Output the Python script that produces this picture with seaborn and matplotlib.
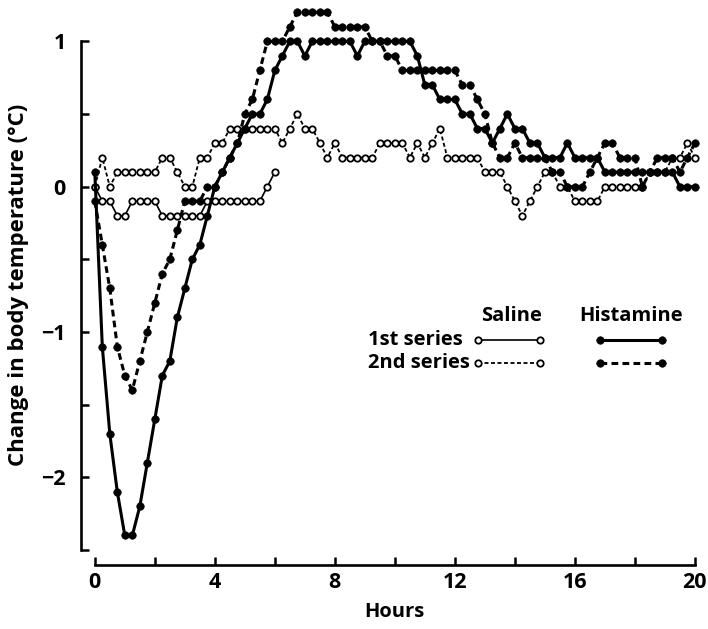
import numpy as np
import pandas as pd
import matplotlib
matplotlib.use("Agg")
import matplotlib.pyplot as plt
from matplotlib.lines import Line2D
import seaborn as sns

# ---- data (readings every 15 min) ----
HOURS = np.arange(0, 20.001, 0.25)
HOURS_SALINE1 = np.arange(0, 6.001, 0.25)

saline_1st = [0.0, -0.1, -0.1, -0.2, -0.2, -0.1, -0.1, -0.1, -0.1, -0.2,
              -0.2, -0.2, -0.2, -0.2, -0.2, -0.1, -0.1, -0.1, -0.1, -0.1,
              -0.1, -0.1, -0.1, 0.0, 0.1]

saline_2nd = [0.0, 0.2, 0.0, 0.1, 0.1, 0.1, 0.1, 0.1, 0.1, 0.2,
              0.2, 0.1, 0.0, 0.0, 0.2, 0.2, 0.3, 0.3, 0.4, 0.4,
              0.4, 0.4, 0.4, 0.4, 0.4, 0.3, 0.4, 0.5, 0.4, 0.4,
              0.3, 0.2, 0.3, 0.2, 0.2, 0.2, 0.2, 0.2, 0.3, 0.3,
              0.3, 0.3, 0.2, 0.3, 0.2, 0.3, 0.4, 0.2, 0.2, 0.2,
              0.2, 0.2, 0.1, 0.1, 0.1, 0.0, -0.1, -0.2, -0.1, 0.0,
              0.1, 0.1, 0.0, 0.0, -0.1, -0.1, -0.1, -0.1, 0.0, 0.0,
              0.0, 0.0, 0.0, 0.0, 0.1, 0.1, 0.1, 0.2, 0.2, 0.3,
              0.2]

histamine_1st = [0.1, -1.1, -1.7, -2.1, -2.4, -2.4, -2.2, -1.9, -1.6, -1.3,
                 -1.2, -0.9, -0.7, -0.5, -0.4, -0.2, 0.0, 0.1, 0.2, 0.3,
                 0.4, 0.5, 0.5, 0.6, 0.8, 0.9, 1.0, 1.0, 0.9, 1.0,
                 1.0, 1.0, 1.0, 1.0, 1.0, 0.9, 1.0, 1.0, 1.0, 1.0,
                 1.0, 1.0, 1.0, 0.9, 0.7, 0.7, 0.6, 0.6, 0.6, 0.5,
                 0.5, 0.4, 0.4, 0.3, 0.4, 0.5, 0.4, 0.4, 0.3, 0.3,
                 0.2, 0.2, 0.2, 0.3, 0.2, 0.2, 0.2, 0.2, 0.1, 0.1,
                 0.1, 0.1, 0.1, 0.1, 0.1, 0.1, 0.1, 0.1, 0.0, 0.0,
                 0.0]

histamine_2nd = [-0.1, -0.4, -0.7, -1.1, -1.3, -1.4, -1.2, -1.0, -0.8, -0.6,
                 -0.5, -0.3, -0.1, -0.1, -0.1, 0.0, 0.0, 0.1, 0.2, 0.3,
                 0.5, 0.6, 0.8, 1.0, 1.0, 1.0, 1.1, 1.2, 1.2, 1.2,
                 1.2, 1.2, 1.1, 1.1, 1.1, 1.1, 1.1, 1.0, 1.0, 0.9,
                 0.9, 0.8, 0.8, 0.8, 0.8, 0.8, 0.8, 0.8, 0.8, 0.7,
                 0.7, 0.6, 0.5, 0.3, 0.2, 0.2, 0.3, 0.2, 0.2, 0.2,
                 0.2, 0.1, 0.1, 0.0, 0.0, 0.0, 0.1, 0.2, 0.3, 0.3,
                 0.2, 0.2, 0.2, 0.0, 0.1, 0.2, 0.2, 0.2, 0.1, 0.2,
                 0.3]

X_TICKS = [0, 4, 8, 12, 16, 20]
X_MINOR = [2, 6, 10, 14, 18]
Y_TICKS = [-2, -1, 0, 1]
Y_MINOR = [-2.5, -1.5, -0.5, 0.5]

frames = [
    pd.DataFrame({"Hours": HOURS_SALINE1, "Change": saline_1st, "series": "Saline 1st"}),
    pd.DataFrame({"Hours": HOURS, "Change": saline_2nd, "series": "Saline 2nd"}),
    pd.DataFrame({"Hours": HOURS, "Change": histamine_1st, "series": "Histamine 1st"}),
    pd.DataFrame({"Hours": HOURS, "Change": histamine_2nd, "series": "Histamine 2nd"}),
]
df = pd.concat(frames, ignore_index=True)

sns.set_theme(style="white")
plt.rcParams["font.family"] = ["Open Sans", "DejaVu Sans"]
plt.rcParams["font.weight"] = "bold"
plt.rcParams["axes.unicode_minus"] = True

FS = 14.5

fig = plt.figure(figsize=(7.08, 6.29), dpi=100)
ax = fig.add_axes([81 / 708, 1 - 550 / 629, 619 / 708, 545 / 629])

DASH = (0, (2.2, 1.4))
styles = {
    "Saline 1st": dict(linestyle="-", linewidth=1.2, markersize=4.6,
                       markerfacecolor="white", markeredgewidth=1.3, zorder=3),
    "Saline 2nd": dict(linestyle=DASH, linewidth=1.3, markersize=4.6,
                       markerfacecolor="white", markeredgewidth=1.3, zorder=3),
    "Histamine 1st": dict(linestyle="-", linewidth=2.2, markersize=5.4,
                          markerfacecolor="black", markeredgewidth=0.5, zorder=4),
    "Histamine 2nd": dict(linestyle=DASH, linewidth=2.2, markersize=5.4,
                          markerfacecolor="black", markeredgewidth=0.5, zorder=4),
}

for name, kw in styles.items():
    sub = df[df["series"] == name]
    sns.lineplot(data=sub, x="Hours", y="Change", ax=ax, color="black",
                 marker="o", markeredgecolor="black", estimator=None,
                 errorbar=None, sort=False, legend=False, **kw)

ax.set_xlim(-0.46, 20.17)
ax.set_ylim(-2.5, 1.25)

for s in ["top", "right"]:
    ax.spines[s].set_visible(False)
for s in ["left", "bottom"]:
    ax.spines[s].set_color("black")
    ax.spines[s].set_linewidth(1.9)
ax.spines["left"].set_bounds(-2.5, 1)
ax.spines["bottom"].set_bounds(0, 20)
ax.spines["bottom"].set_position(("outward", 11))

ax.set_xticks(X_TICKS)
ax.set_xticks(X_MINOR, minor=True)
ax.set_yticks(Y_TICKS)
ax.set_yticks(Y_MINOR, minor=True)
ax.set_xticklabels([str(v) for v in X_TICKS])
ax.set_yticklabels(["\u22122", "\u22121", "0", "1"])
ax.tick_params(which="both", direction="in", length=6, width=1.8, color="black",
               bottom=True, left=True, labelsize=FS + 1, labelcolor="black")
ax.tick_params(axis="y", which="both", pad=11)
ax.tick_params(axis="x", which="both", pad=5)
ax.grid(False)

ax.set_xlabel("Hours", fontsize=FS, fontweight="bold", color="black")
ax.set_ylabel("Change in body temperature (\u00b0C)", fontsize=16,
              fontweight="bold", color="black")
ax.xaxis.set_label_coords(0.507, -0.095)
ax.yaxis.set_label_coords(-0.084, 0.486)

# ---- legend drawn as a small table ----
tr = ax.transAxes
txt = dict(transform=tr, fontsize=FS, fontweight="bold", color="black", va="center")
ax.text(0.6947, 0.4294, "Saline", ha="center", **txt)
ax.text(0.8885, 0.4294, "Histamine", ha="center", **txt)
ax.text(0.4640, 0.3853, "1st series", ha="left", **txt)
ax.text(0.4640, 0.3431, "2nd series", ha="left", **txt)

leg_rows = [
    ([0.6420, 0.7415], 0.3853, "Saline 1st"),
    ([0.6420, 0.7415], 0.3431, "Saline 2nd"),
    ([0.8384, 0.9386], 0.3853, "Histamine 1st"),
    ([0.8384, 0.9386], 0.3431, "Histamine 2nd"),
]
for xs, y, name in leg_rows:
    kw = dict(styles[name])
    kw.pop("zorder")
    ln = Line2D(xs, [y, y], transform=tr, color="black", marker="o",
                markeredgecolor="black", **kw)
    ln.set_clip_on(False)
    ax.add_line(ln)

fig.savefig("out.png", dpi=100, facecolor="white")
